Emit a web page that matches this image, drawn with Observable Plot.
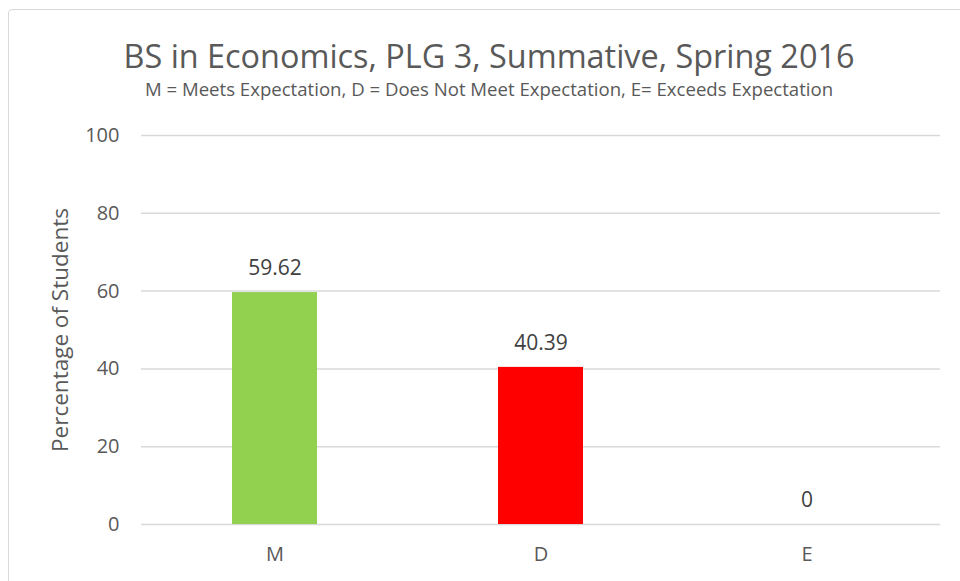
<!DOCTYPE html>
<html>
<head>
<meta charset="utf-8">
<script src="https://cdn.jsdelivr.net/npm/d3@7"></script>
<script src="https://cdn.jsdelivr.net/npm/@observablehq/plot@0.6"></script>
<style>
  html, body { margin: 0; padding: 0; background: #fff; }
  body { width: 960px; height: 581px; position: relative; overflow: hidden; font-family: "Open Sans", sans-serif; color: #595959; }
  #frame { position: absolute; left: 8px; top: 9px; width: 1000px; height: 700px; border: 1px solid #d9d9d9; border-radius: 4px; box-sizing: border-box; }
  #title { position: absolute; left: 0; width: 978px; top: 35px; text-align: center; font-size: 32.4px; line-height: 40px; white-space: nowrap; }
  #subtitle { position: absolute; left: 0; width: 978px; top: 77px; text-align: center; font-size: 18.6px; line-height: 24px; white-space: nowrap; }
  #chart { position: absolute; left: 0; top: 110px; }
</style>
</head>
<body>
<div id="frame"></div>
<div id="title">BS in Economics, PLG 3, Summative, Spring 2016</div>
<div id="subtitle">M = Meets Expectation, D = Does Not Meet Expectation, E= Exceeds Expectation</div>
<div id="chart"></div>
<script>
const categories = ["M", "D", "E"];
const values = [59.62, 40.39, 0];
const labels = ["59.62", "40.39", "0"];
const barColors = ["#92d050", "#ff0000", "#ffffff"];
const yTicks = [0, 20, 40, 60, 80, 100];
const yTitle = "Percentage of Students";

const data = categories.map((c, i) => ({cat: c, value: values[i], label: labels[i], color: barColors[i]}));

const chart = Plot.plot({
  width: 960,
  height: 471,
  marginTop: 25,
  marginBottom: 57,
  marginLeft: 141,
  marginRight: 20,
  style: {fontFamily: "Open Sans, sans-serif", fontSize: "20px", color: "#595959", background: "transparent"},
  x: {domain: categories, paddingInner: 0.68, paddingOuter: 0.34, label: null},
  y: {domain: [0, 100], ticks: yTicks, label: null},
  marks: [
    Plot.gridY(yTicks, {stroke: "#d9d9d9", strokeOpacity: 1, strokeWidth: 1.5}),
    Plot.barY(data, {x: "cat", y: "value", fill: "color"}),
    Plot.text(data, {x: "cat", y: "value", text: "label", dy: -24, fontSize: 21, fill: "#404040"}),
    Plot.axisY({ticks: yTicks, tickSize: 0, tickPadding: 22, fontSize: 20, label: null}),
    Plot.axisX({tickSize: 0, tickPadding: 22, fontSize: 20, label: null}),
    Plot.text([yTitle], {frameAnchor: "left", textAnchor: "middle", dx: -81, rotate: -90, fontSize: 22.5, fill: "#595959"})
  ]
});
document.getElementById("chart").appendChild(chart);
</script>
</body>
</html>
